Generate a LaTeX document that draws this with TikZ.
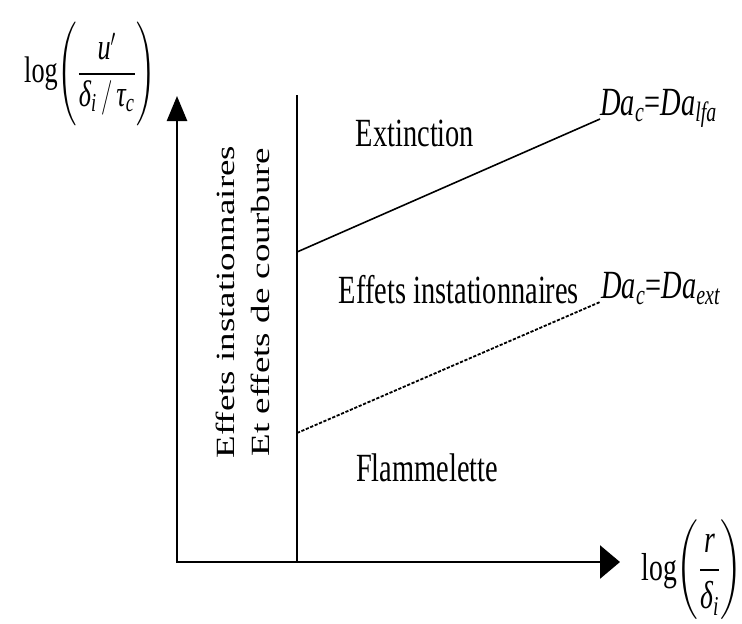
\documentclass[tikz,border=0pt]{standalone}
\usepackage{fontspec}
\usepackage{amsmath}
\setmainfont{Liberation Serif}
\usetikzlibrary{arrows.meta}
\newcommand{\sqz}[1]{\scalebox{0.71}[1]{#1}}
\newcommand{\vsqz}[1]{\scalebox{1}[0.71]{#1}}
\begin{document}
\begin{tikzpicture}[x=0.5pt,y=-0.5pt,
  lbl/.style={inner sep=0pt, font=\fontsize{20}{24}\selectfont},
  sidelbl/.style={inner sep=0pt, font=\fontsize{18.5}{24.6}\selectfont, rotate=90},
  axislbl/.style={inner sep=0pt, font=\fontsize{19.5}{24}\selectfont},
  axis/.style={line width=1.3pt, line join=miter,
    {Triangle[length=12.5pt,width=10pt]}-{Triangle[length=10pt,width=16.5pt]}},
  divider/.style={line width=1pt},
  solidline/.style={line width=0.8pt},
  dashline/.style={line width=0.9pt, dash pattern=on 1.6pt off 0.8pt}]
\useasboundingbox (0,0) rectangle (742,623);

% coordinates
\coordinate (O) at (177,562);
\coordinate (ytip) at (177,96);
\coordinate (xtip) at (620,562);
\coordinate (Dtop) at (297,95);
\coordinate (Dbot) at (297,562);
\coordinate (A1) at (297,252);
\coordinate (A2) at (600,119);
\coordinate (B1) at (297,433);
\coordinate (B2) at (600,302);

% axes
\draw[axis] (ytip) -- (O) -- (xtip);
\draw[divider] (Dtop) -- (Dbot);
\draw[solidline] (A1) -- (A2);
\draw[dashline] (B1) -- (B2);

% region labels
\node[lbl] (ext) at (415,133) {\sqz{Extinction}};
\node[lbl] (inst) at (459,290) {\sqz{Effets instationnaires}};
\node[lbl] (flam) at (427,468) {\sqz{Flammelette}};
\node[sidelbl, align=center] (side) at (245,302)
  {\vsqz{\begin{tabular}{@{}c@{}}Effets instationnaires\\Et effets de courbure\end{tabular}}};

% Damkohler labels
\node[lbl, anchor=base west] (dalfa) at (600,115)
  {\sqz{\textit{Da}$_{\text{\itshape c}}$=\textit{Da}$_{\text{\itshape lfa}}$}};
\node[lbl, anchor=base west] (daext) at (601,298)
  {\sqz{\textit{Da}$_{\text{\itshape c}}$=\textit{Da}$_{\text{\itshape ext}}$}};

% axis labels
\node[axislbl, font=\fontsize{18.5}{22}\selectfont] (ylab) at (90,74)
  {\sqz{$\log\Biggl(\dfrac{\text{\itshape u}'}{\text{\itshape δ}_{\text{\itshape i}}\,/\,\text{\itshape τ}_{\text{\itshape c}}}\Biggr)$}};
\node[axislbl] (xlab) at (692,570)
  {\sqz{$\log\biggl(\dfrac{\text{\itshape r}}{\text{\itshape δ}_{\text{\itshape i}}}\biggr)$}};
\end{tikzpicture}
\end{document}
